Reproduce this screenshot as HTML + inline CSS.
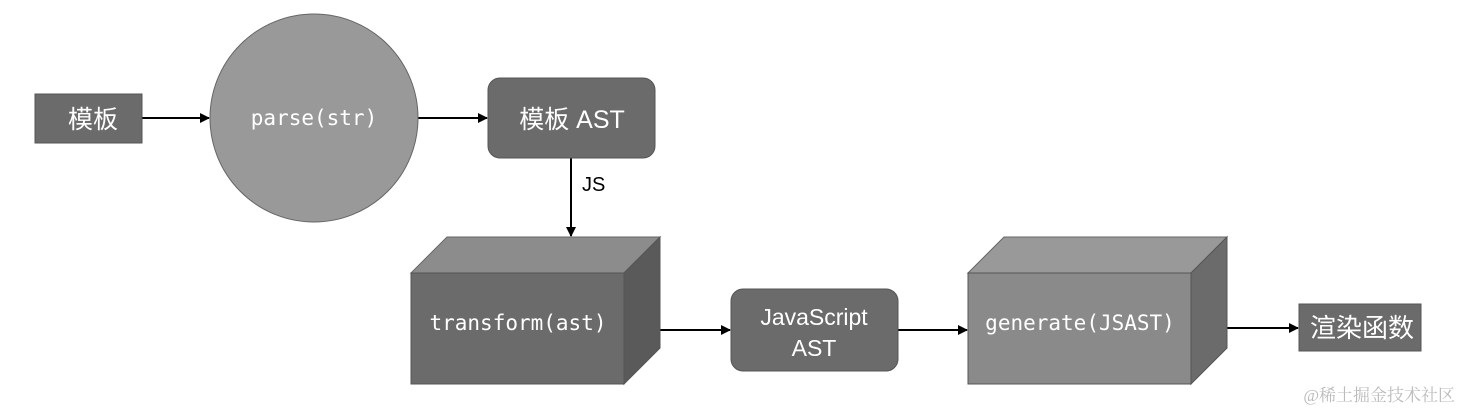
<!DOCTYPE html>
<html><head><meta charset="utf-8"><style>
html,body{margin:0;padding:0;background:#fff;width:1462px;height:412px;overflow:hidden}
</style></head><body>
<svg width="1462" height="412" viewBox="0 0 1462 412" xmlns="http://www.w3.org/2000/svg">
<defs><marker id="a" markerWidth="10" markerHeight="10" refX="9" refY="5" orient="auto" markerUnits="userSpaceOnUse"><path d="M0,0 L10,5 L0,10 z" fill="#000"/></marker></defs>
<g stroke="#000" stroke-width="2" fill="none" marker-end="url(#a)">
<line x1="142" y1="118" x2="209" y2="118"/>
<line x1="418" y1="118" x2="487" y2="118"/>
<line x1="571" y1="158" x2="571" y2="236"/>
<line x1="660" y1="330" x2="730" y2="330"/>
<line x1="898" y1="330" x2="967" y2="330"/>
<line x1="1227" y1="328" x2="1298" y2="328"/>
</g>
<rect x="35" y="94" width="107" height="49" fill="#6b6b6b" stroke="#555"/>
<text x="93" y="128" font-family="Liberation Sans,'Noto Sans CJK SC',sans-serif" font-size="25" fill="#fff" text-anchor="middle">模板</text>
<circle cx="314" cy="118" r="104" fill="#999" stroke="#666"/>
<text x="314" y="125" font-family="'DejaVu Sans Mono',monospace" font-size="21" fill="#fff" text-anchor="middle">parse(str)</text>
<rect x="488" y="78" width="167" height="80" rx="12" fill="#6b6b6b" stroke="#555"/>
<text x="572" y="128" font-family="Liberation Sans,'Noto Sans CJK SC',sans-serif" font-size="25" fill="#fff" text-anchor="middle">模板 AST</text>
<text x="582" y="191" font-family="Liberation Sans,sans-serif" font-size="20" fill="#000">JS</text>
<polygon points="411,273 447,237 660,237 624,273" fill="#8c8c8c" stroke="#666"/>
<polygon points="624,273 660,237 660,348 624,384" fill="#5a5a5a" stroke="#555"/>
<rect x="411" y="273" width="213" height="111" fill="#6b6b6b" stroke="#555"/>
<text x="518" y="330" font-family="'DejaVu Sans Mono',monospace" font-size="21" fill="#fff" text-anchor="middle">transform(ast)</text>
<rect x="731" y="289" width="167" height="82" rx="12" fill="#6b6b6b" stroke="#555"/>
<text x="814" y="325" font-family="Liberation Sans,sans-serif" font-size="23" fill="#fff" text-anchor="middle">JavaScript</text>
<text x="814" y="356" font-family="Liberation Sans,sans-serif" font-size="23" fill="#fff" text-anchor="middle">AST</text>
<polygon points="968,273 1004,237 1227,237 1191,273" fill="#999" stroke="#666"/>
<polygon points="1191,273 1227,237 1227,348 1191,384" fill="#6b6b6b" stroke="#555"/>
<rect x="968" y="273" width="223" height="111" fill="#8a8a8a" stroke="#555"/>
<text x="1080" y="330" font-family="'DejaVu Sans Mono',monospace" font-size="21" fill="#fff" text-anchor="middle">generate(JSAST)</text>
<rect x="1299" y="304" width="122" height="47" fill="#6b6b6b" stroke="#555"/>
<text x="1362" y="337" font-family="Liberation Sans,'Noto Sans CJK SC',sans-serif" font-size="26" fill="#fff" text-anchor="middle">渲染函数</text>
<text x="1455" y="401" font-family="Liberation Serif,'Noto Serif CJK SC',serif" font-size="17" fill="#bbb" text-anchor="end">@稀土掘金技术社区</text>
</svg>
</body></html>
